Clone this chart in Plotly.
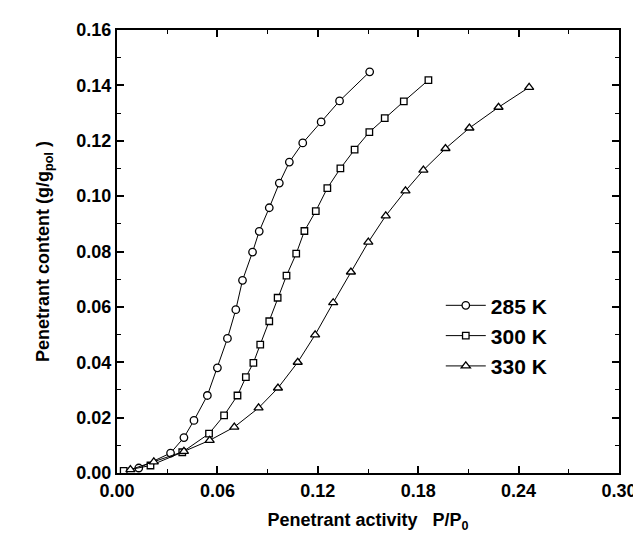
import plotly.graph_objects as go

# 285 K (circles)
x_285 = [0.013, 0.032, 0.040, 0.046, 0.054, 0.060, 0.066, 0.071, 0.075, 0.081, 0.085, 0.091,
         0.097, 0.103, 0.111, 0.122, 0.133, 0.151]
y_285 = [0.0018, 0.0072, 0.0128, 0.0190, 0.0280, 0.0380, 0.0486, 0.0590, 0.0696, 0.0798, 0.0873,
         0.0958, 0.1047, 0.1123, 0.1192, 0.1268, 0.1344, 0.1449]

# 300 K (squares)
x_300 = [0.004, 0.020, 0.039, 0.055, 0.064, 0.072, 0.077, 0.0815, 0.0856, 0.091, 0.096, 0.1013,
         0.1071, 0.112, 0.1188, 0.1257, 0.1335, 0.142, 0.1508, 0.160, 0.1714, 0.1861]
y_300 = [0.0008, 0.0027, 0.0075, 0.0142, 0.0208, 0.0280, 0.0346, 0.0398, 0.0464, 0.0548, 0.0633,
         0.0713, 0.0792, 0.0874, 0.0946, 0.1029, 0.1100, 0.1168, 0.1231, 0.1282, 0.1342, 0.1419]

# 330 K (triangles)
x_330 = [0.008, 0.022, 0.040, 0.0554, 0.0701, 0.0846, 0.0962, 0.108, 0.1184, 0.1292, 0.1398,
         0.1502, 0.1606, 0.1724, 0.1831, 0.1963, 0.2106, 0.228, 0.2463]
y_330 = [0.0012, 0.0040, 0.0078, 0.0118, 0.0166, 0.0235, 0.0307, 0.0400, 0.0499, 0.0615, 0.0726,
         0.0834, 0.0929, 0.1019, 0.1094, 0.1172, 0.1246, 0.1321, 0.1393]

x_ticks = [0.00, 0.06, 0.12, 0.18, 0.24, 0.30]
y_ticks = [0.00, 0.02, 0.04, 0.06, 0.08, 0.10, 0.12, 0.14, 0.16]

FONT = "Arial, Liberation Sans, Helvetica, sans-serif"

series = [
    ("285 K", x_285, y_285, "circle", 7.5),
    ("300 K", x_300, y_300, "square", 6.5),
    ("330 K", x_330, y_330, "triangle-up", 8),
]

fig = go.Figure()
for i, (name, xs, ys, sym, sz) in enumerate(series):
    fig.add_trace(go.Scatter(
        x=xs, y=ys, name=name, mode="lines+markers",
        legendgroup=f"g{i}",
        line=dict(color="black", width=1),
        marker=dict(symbol=sym, size=sz, color="white",
                    line=dict(color="black", width=1.3)),
    ))

axis_common = dict(
    showline=True, linecolor="black", linewidth=2, mirror="ticks",
    ticks="inside", ticklen=7, tickwidth=1.5, tickcolor="black",
    showgrid=False, zeroline=False,
    tickfont=dict(family=FONT, size=18, color="black", weight="bold"),
)

fig.update_xaxes(
    range=[0, 0.30], tickvals=x_ticks, ticktext=[f"{v:.2f}" for v in x_ticks],
    minor=dict(ticks="inside", ticklen=4, tickwidth=1.2, tickcolor="black", dtick=0.03, showgrid=False),
    title=dict(text="Penetrant activity   P/P<sub>0</sub>", standoff=14,
               font=dict(family=FONT, size=18, color="black", weight="bold")),
    **axis_common,
)
fig.update_yaxes(
    range=[0, 0.16], tickvals=y_ticks, ticktext=[f"{v:.2f}" for v in y_ticks],
    minor=dict(ticks="inside", ticklen=4, tickwidth=1.2, tickcolor="black", dtick=0.01, showgrid=False),
    title=dict(text="Penetrant content (g/g<sub>pol</sub> )", standoff=22,
               font=dict(family=FONT, size=18, color="black", weight="bold")),
    **axis_common,
)

fig.update_layout(
    width=641, height=534,
    margin=dict(l=109, r=25, t=20, b=69),
    paper_bgcolor="white", plot_bgcolor="white",
    showlegend=True,
    legend=dict(
        x=0.645, y=0.31, xanchor="left", yanchor="middle",
        font=dict(family=FONT, size=21, color="black", weight="bold"),
        bgcolor="rgba(0,0,0,0)", tracegroupgap=0, itemwidth=40,
    ),
)

fig.write_html("out.html")
